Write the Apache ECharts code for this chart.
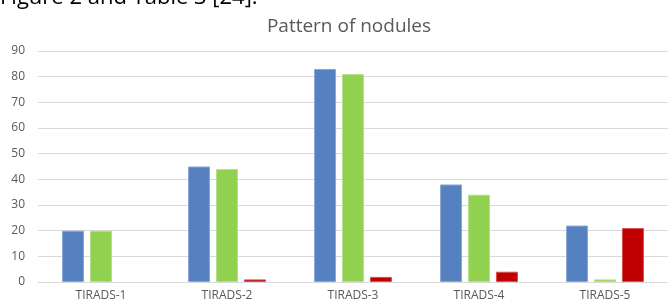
<!DOCTYPE html>
<html>
<head>
<meta charset="utf-8">
<script src="https://cdn.jsdelivr.net/npm/echarts@6/dist/echarts.min.js"></script>
<style>
  html, body { margin: 0; padding: 0; background: #fff; }
  #chart { width: 668px; height: 303px; }
</style>
</head>
<body>
<div id="chart"></div>
<script>
const categories = ['TIRADS-1', 'TIRADS-2', 'TIRADS-3', 'TIRADS-4', 'TIRADS-5'];
const blueValues = [20, 45, 83, 38, 22];
const greenValues = [20, 44, 81, 34, 1];
const redValues = [0, 1, 2, 4, 21];
const yTicks = { min: 0, max: 90, interval: 10 };

const chart = echarts.init(document.getElementById('chart'));
// zero-height bars are not drawn in the original
const noZero = arr => arr.map(v => (v === 0 ? null : v));
const barStyle = (color, border) => ({
  type: 'bar',
  barWidth: 22,
  barGap: '27%',
  itemStyle: { color: color, borderColor: border, borderWidth: 1 }
});

chart.setOption({
  animation: false,
  graphic: [{
    type: 'text',
    left: 0,
    top: -13,
    style: { text: 'Figure 2 and Table 3 [24].', fill: '#000', font: '22px "Open Sans", sans-serif' }
  }],
  title: {
    text: 'Pattern of nodules',
    left: 344,
    textAlign: 'center',
    top: 12,
    textStyle: { color: '#595959', fontSize: 19, fontWeight: 'normal', fontFamily: 'Open Sans' }
  },
  grid: { left: 38, right: 0, top: 51, bottom: 21 },
  xAxis: {
    type: 'category',
    data: categories,
    axisLine: { lineStyle: { color: '#d9d9d9' } },
    axisTick: { show: false },
    axisLabel: { color: '#595959', fontSize: 12, fontFamily: 'Open Sans', margin: 8 }
  },
  yAxis: {
    type: 'value',
    min: yTicks.min,
    max: yTicks.max,
    interval: yTicks.interval,
    axisLabel: { color: '#595959', fontSize: 12, fontFamily: 'Open Sans', margin: 13 },
    splitLine: { lineStyle: { color: '#d9d9d9' } }
  },
  series: [
    Object.assign({ name: 'A', data: noZero(blueValues) }, barStyle('#5681c1', '#8aa8d6')),
    Object.assign({ name: 'B', data: noZero(greenValues) }, barStyle('#92d050', '#b5e08c')),
    Object.assign({ name: 'C', data: noZero(redValues) }, barStyle('#c00000', '#d85050'))
  ]
});
</script>
</body>
</html>
